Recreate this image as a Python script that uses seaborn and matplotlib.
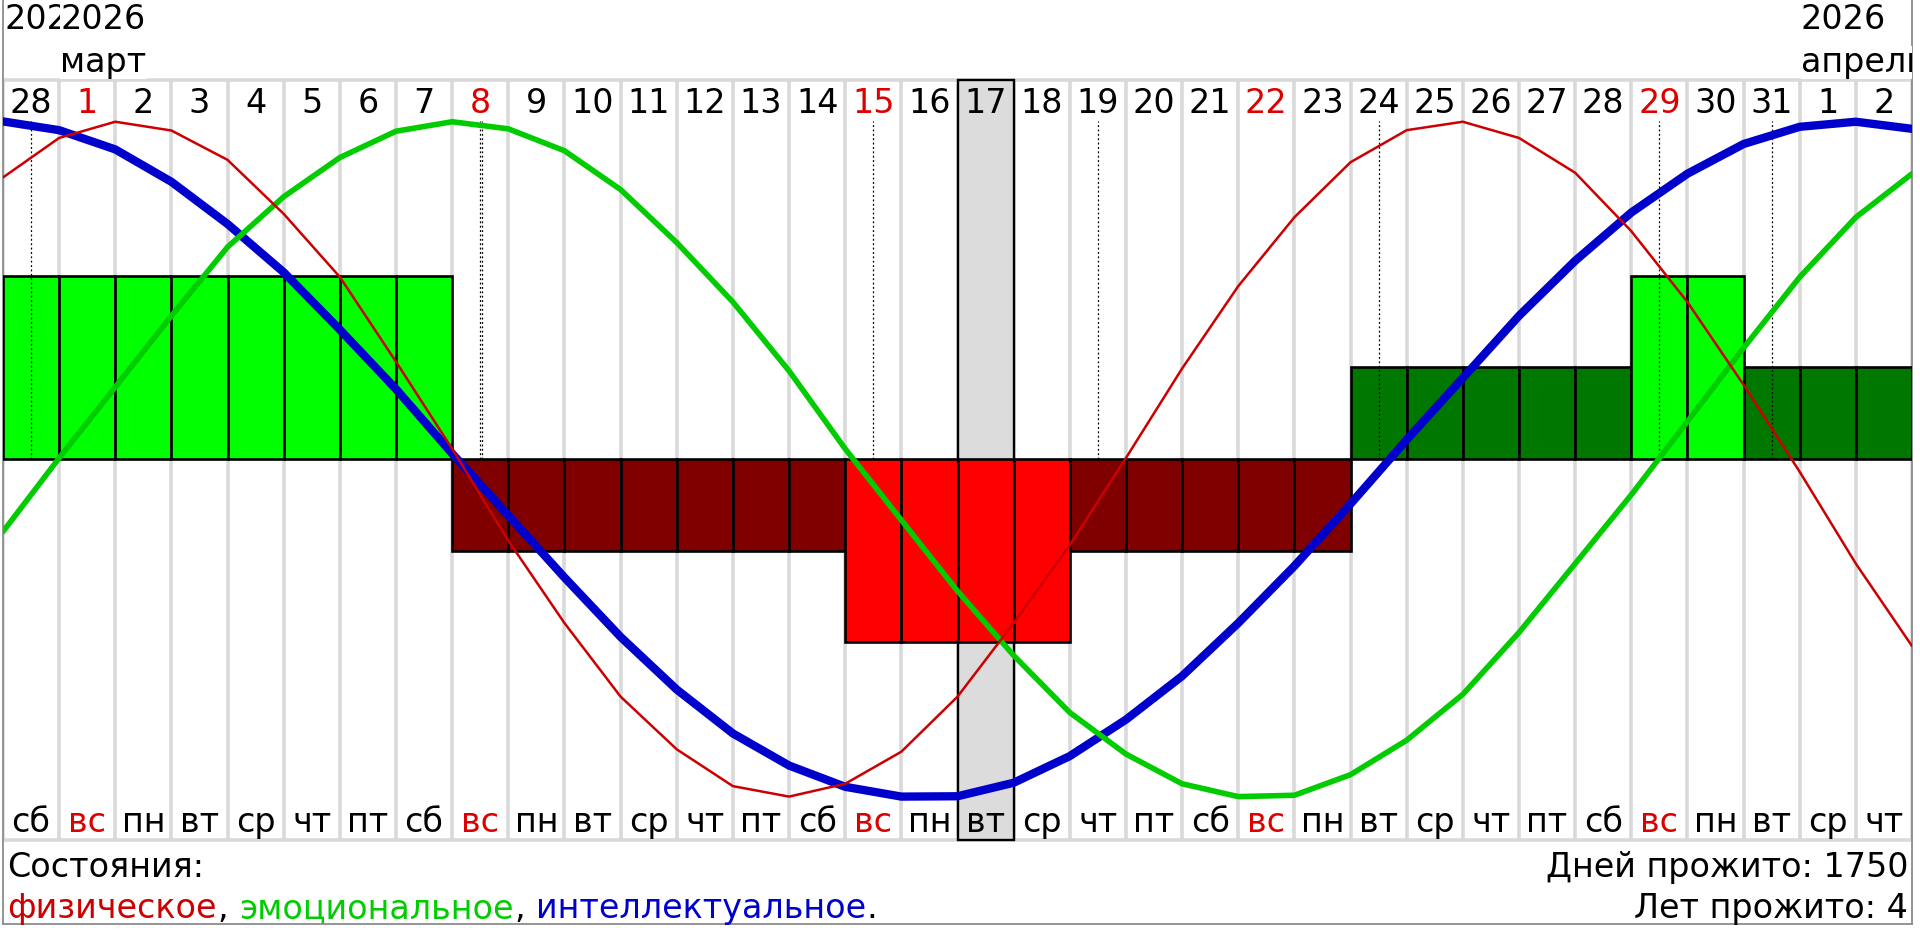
import numpy as np
import matplotlib.pyplot as plt
from matplotlib.patches import Rectangle
import seaborn as sns

# ---- values ----
day_labels = ['28', '1', '2', '3', '4', '5', '6', '7', '8', '9', '10', '11',
              '12', '13', '14', '15', '16', '17', '18', '19', '20', '21', '22',
              '23', '24', '25', '26', '27', '28', '29', '30', '31', '1', '2']
weekdays = ['сб', 'вс', 'пн', 'вт', 'ср', 'чт', 'пт', 'сб', 'вс', 'пн', 'вт',
            'ср', 'чт', 'пт', 'сб', 'вс', 'пн', 'вт', 'ср', 'чт', 'пт', 'сб',
            'вс', 'пн', 'вт', 'ср', 'чт', 'пт', 'сб', 'вс', 'пн', 'вт', 'ср', 'чт']

# month headers: column where the month starts, year, month name
month_cols = [0, 1, 32]
month_years = ['2026', '2026', '2026']
month_names = ['', 'март', 'апрель']

# curve values at the start of every day (35 points, -1..1)
physical = [0.834, 0.951, 0.999, 0.973, 0.886, 0.726, 0.539, 0.288, 0.03,
            -0.242, -0.486, -0.704, -0.860, -0.969, -1.0, -0.962, -0.867,
            -0.704, -0.486, -0.255, 0.003, 0.268, 0.512, 0.716, 0.879, 0.974,
            0.999, 0.951, 0.848, 0.675, 0.465, 0.220, -0.038, -0.310, -0.554]
emotional = [-0.215, 0.003, 0.213, 0.424, 0.628, 0.777, 0.893, 0.971, 0.999,
             0.978, 0.913, 0.798, 0.641, 0.465, 0.261, 0.030, -0.181, -0.391,
             -0.582, -0.751, -0.874, -0.962, -1.0, -0.996, -0.935, -0.833,
             -0.697, -0.514, -0.310, -0.106, 0.111, 0.329, 0.539, 0.716, 0.845]
intellectual = [1.0, 0.974, 0.917, 0.821, 0.696, 0.553, 0.383, 0.207, 0.016,
                -0.167, -0.351, -0.527, -0.683, -0.813, -0.908, -0.971, -1.0,
                -0.999, -0.959, -0.880, -0.772, -0.643, -0.486, -0.317, -0.133,
                0.057, 0.240, 0.424, 0.587, 0.730, 0.845, 0.933, 0.984, 0.999,
                0.978]

# overall state per day (-2..2)
day_state = [2, 2, 2, 2, 2, 2, 2, 2, -1, -1, -1, -1, -1, -1, -1, -2, -2, -2,
             -2, -1, -1, -1, -1, -1, 1, 1, 1, 1, 1, 2, 2, 1, 1, 1]

# critical days (dotted markers), repeated when two cycles cross
critical_cols = [0, 8, 8, 15, 19, 24, 29, 31]
today_col = 17
days_lived = 1750
years_lived = 4

# ---- style ----
sns.set_style('white')
plt.rcParams['font.family'] = ['DejaVu Sans']
plt.rcParams['text.color'] = 'black'
FS = 24
RED_TXT = '#dd0000'
state_colors = {2: '#00ff00', 1: '#007800', -1: '#800000', -2: '#ff0000'}

W, H, DPI = 1920, 930, 100
LEFT_PX, RIGHT_PX, BOTTOM_PX = 3, 1912, 924
ZERO_PX, AMP_PX = 459, 337.6
BAR_UNIT = 0.2715


def yv(py):
    # pixel row -> chart value
    return (ZERO_PX - py) / AMP_PX


fig = plt.figure(figsize=(W / DPI, H / DPI), dpi=DPI)
ax = fig.add_axes([LEFT_PX / W, (H - BOTTOM_PX) / H,
                   (RIGHT_PX - LEFT_PX) / W, BOTTOM_PX / H])
n = len(day_labels)
ax.set_xlim(0, n)
ax.set_ylim(yv(BOTTOM_PX), yv(0))
ax.set_xticks([])
ax.set_yticks([])
ax.spines['top'].set_visible(False)
for s in ['left', 'right', 'bottom']:
    ax.spines[s].set_color('#8c8c8c')
    ax.spines[s].set_linewidth(1.3)

top_v, bot_v = yv(80), yv(840)

# column grid
ax.vlines(np.arange(n + 1), bot_v, top_v, colors='#d9d9d9', lw=2.6, zorder=1)
ax.hlines([top_v, bot_v], 0, n, colors='#d9d9d9', lw=2.6, zorder=1)

# today
ax.add_patch(Rectangle((today_col, bot_v), 1, top_v - bot_v, facecolor='#dcdcdc',
                       edgecolor='black', lw=1.7, zorder=2))

# state bars
ax.bar(np.arange(n) + 0.5, np.array(day_state) * BAR_UNIT, width=1,
       color=[state_colors[v] for v in day_state], edgecolor='black',
       linewidth=1.9, zorder=3)

# critical day markers
seen = {}
for c in critical_cols:
    k = seen.get(c, 0)
    seen[c] = k + 1
    ax.vlines(c + 0.5 + 0.035 * k, 0, 1, colors='black', lw=0.9,
              linestyles=(0, (1.5, 2.0)), zorder=4)

# biorhythm curves
bounds = np.arange(n + 1)
sns.lineplot(x=bounds, y=intellectual, color='#0000cc', lw=6, ax=ax, zorder=5)
sns.lineplot(x=bounds, y=emotional, color='#00cc00', lw=4, ax=ax, zorder=6)
sns.lineplot(x=bounds, y=physical, color='#cc0000', lw=1.8, ax=ax, zorder=7)

# day numbers and weekdays
for i in range(n):
    col = RED_TXT if weekdays[i] == 'вс' else 'black'
    ax.text(i + 0.5, yv(113), day_labels[i], ha='center', va='baseline',
            fontsize=FS, color=col, zorder=8)
    ax.text(i + 0.5, yv(832), weekdays[i], ha='center', va='baseline',
            fontsize=FS, color=col, zorder=8)

# month headers
for c, yr, mn in zip(month_cols, month_years, month_names):
    box = dict(facecolor='white', edgecolor='none', pad=0) if c > 0 else None
    ax.text(c + 0.02, yv(29), yr, ha='left', va='baseline', fontsize=FS,
            color='black', bbox=box, clip_on=True, zorder=8)
    if mn:
        ax.text(c + 0.02, yv(72), mn, ha='left', va='baseline', fontsize=FS,
                color='black', bbox=box, clip_on=True, zorder=8)

# legend / footer
ax.text(0.07, yv(877), 'Состояния:', ha='left', va='baseline', fontsize=FS,
        color='black')
pieces = [('физическое', '#cc0000', 0), (',', 'black', 0.5),
          ('эмоциональное', '#00cc00', 8), (',', 'black', 0.5),
          ('интеллектуальное', '#0000cc', 8), ('.', 'black', 0.5)]
prev = ax.text(0.07, yv(918), pieces[0][0], ha='left', va='baseline',
               fontsize=FS, color=pieces[0][1])
for txt, col, gap in pieces[1:]:
    prev = ax.annotate(txt, xy=(1, 0), xycoords=prev, xytext=(gap, 0),
                       textcoords='offset points', ha='left', va='bottom',
                       fontsize=FS, color=col)

ax.text(n - 0.07, yv(877), f'Дней прожито: {days_lived}', ha='right',
        va='baseline', fontsize=FS, color='black')
ax.text(n - 0.07, yv(918), f'Лет прожито: {years_lived}', ha='right',
        va='baseline', fontsize=FS, color='black')

fig.savefig('out.png', dpi=DPI)
plt.close(fig)
